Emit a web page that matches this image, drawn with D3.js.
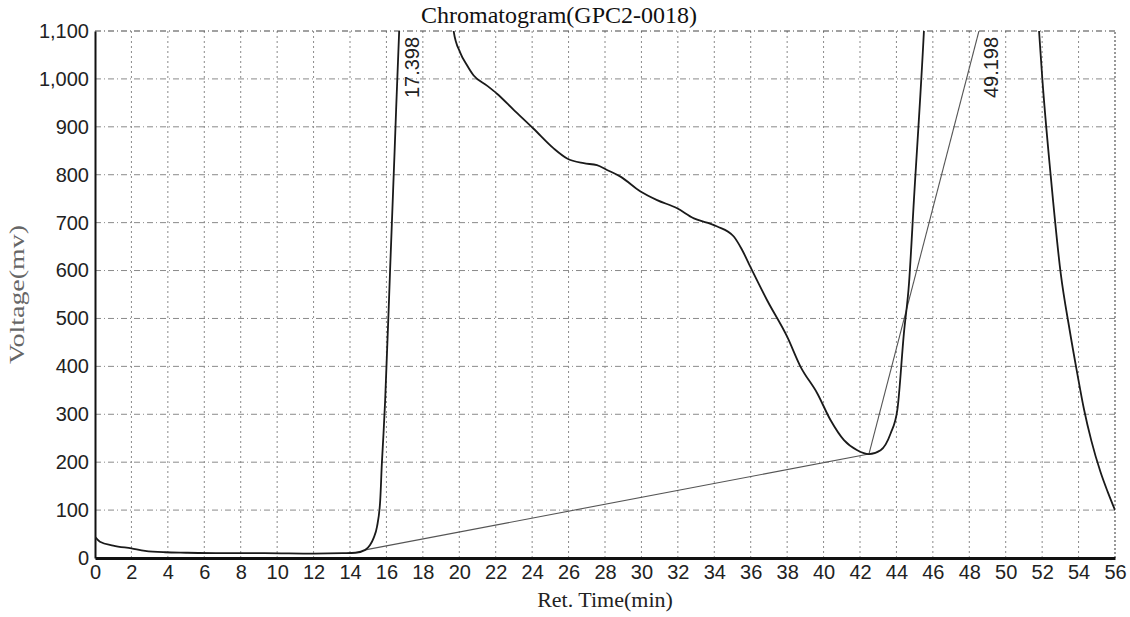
<!DOCTYPE html>
<html lang="en">
<head>
<meta charset="UTF-8">
<title>Chromatogram(GPC2-0018)</title>
<script src="https://d3js.org/d3.v7.min.js"></script>
<style>
    body { margin: 0; background: #fff; }
    .tick-label { font-family: "Liberation Sans", Arial, sans-serif; font-size: 20px; fill: #222; }
    .serif { font-family: "Liberation Serif", "Times New Roman", serif; }
</style>
</head>
<body>
<script>
    // retention time (min) and detector voltage (mV)
    const retTime = [0, 0.27, 1, 2, 2.75, 3.85, 5, 7, 9.3, 12, 13.6, 14.3, 14.84, 15.1, 15.3, 15.48, 15.66, 15.75,
        15.84, 15.93, 16.2, 16.45, 16.7, 16.85, 17.4, 19.2, 19.6, 19.69, 20.05, 20.4, 20.79, 21.52, 22.07, 23.0,
        24.08, 25.18, 25.92, 26.83, 27.56, 28.11, 28.85, 29.95, 30.86, 31.96, 32.88, 33.6, 34.16, 35.07, 35.5,
        35.99, 36.9, 38.0, 38.74, 39.65, 40.38, 41.12, 41.85, 42.49, 43.13, 43.68, 44.05, 44.41, 44.69, 44.96,
        45.51, 45.7, 49.2, 51.6, 51.83, 52.01, 52.47, 53.02, 53.5, 53.93, 54.3, 54.7, 55.2, 55.6, 56.0];
    const voltage = [44, 34, 26, 20, 15, 12, 11, 10, 10, 9, 10, 11, 17, 27, 42, 65, 121, 198,
        260, 329, 600, 850, 1100, 1200, 1500, 1500, 1130, 1100, 1055, 1030, 1007, 986, 969, 935,
        896, 855, 834, 824, 820, 810, 796, 765, 747, 730, 709, 700, 692, 671, 645,
        607, 538, 462, 399, 344, 288, 246, 225, 217, 225, 260, 309, 469, 573, 747,
        1100, 1250, 1600, 1250, 1100, 1000, 798, 594, 478, 385, 310, 245, 180, 138, 100];

    // integration baseline and tangent drop line
    const baseTime = [14.84, 42.49];
    const baseVolt = [17, 217];
    const dropTime = [42.49, 48.53];
    const dropVolt = [217, 1100];

    const peakTimes = [17.398, 49.198];
    const peakLabels = ["17.398", "49.198"];

    const xTicks = [0, 2, 4, 6, 8, 10, 12, 14, 16, 18, 20, 22, 24, 26, 28, 30, 32, 34, 36, 38, 40, 42, 44, 46, 48, 50, 52, 54, 56];
    const yTicks = [0, 100, 200, 300, 400, 500, 600, 700, 800, 900, 1000, 1100];

    const W = 1130, H = 617;
    const margin = { top: 31, right: 15, bottom: 59, left: 95 };

    const svg = d3.select("body").append("svg")
        .attr("width", W)
        .attr("height", H)
        .style("display", "block");

    svg.append("rect").attr("width", W).attr("height", H).attr("fill", "#fff");

    const x = d3.scaleLinear().domain([0, 56]).range([margin.left, W - margin.right]);
    const y = d3.scaleLinear().domain([0, 1100]).range([H - margin.bottom, margin.top]);

    // grid
    svg.append("g").selectAll("line")
        .data(xTicks.slice(1, -1))
        .enter().append("line")
        .attr("x1", d => x(d)).attr("x2", d => x(d))
        .attr("y1", y(0)).attr("y2", y(1100))
        .attr("stroke", "#8a8a8a")
        .attr("stroke-width", 1)
        .attr("stroke-dasharray", "2,3");

    svg.append("g").selectAll("line")
        .data(yTicks.slice(1, -1))
        .enter().append("line")
        .attr("x1", x(0)).attr("x2", x(56))
        .attr("y1", d => y(d)).attr("y2", d => y(d))
        .attr("stroke", "#8a8a8a")
        .attr("stroke-width", 1)
        .attr("stroke-dasharray", "6,3,1,3");

    // top and right frame
    svg.append("line")
        .attr("x1", x(0)).attr("x2", x(56)).attr("y1", y(1100)).attr("y2", y(1100))
        .attr("stroke", "#444").attr("stroke-width", 1.2).attr("stroke-dasharray", "6,3,1,3");
    svg.append("line")
        .attr("x1", x(56)).attr("x2", x(56)).attr("y1", y(0)).attr("y2", y(1100))
        .attr("stroke", "#555").attr("stroke-width", 1.2).attr("stroke-dasharray", "2,2");

    // axes
    const yAxis = svg.append("g")
        .attr("transform", `translate(${x(0)},0)`)
        .call(d3.axisLeft(y).tickValues(yTicks).tickSize(0).tickPadding(6).tickFormat(d3.format(",")));
    yAxis.select(".domain").attr("stroke", "#111").attr("stroke-width", 2);
    yAxis.selectAll("text").attr("class", "tick-label").attr("font-size", null).attr("font-family", null);

    const xAxis = svg.append("g")
        .attr("transform", `translate(0,${y(0)})`)
        .call(d3.axisBottom(x).tickValues(xTicks).tickSize(0).tickPadding(7));
    xAxis.select(".domain").attr("stroke", "#111").attr("stroke-width", 3);
    xAxis.selectAll("text").attr("class", "tick-label").attr("font-size", null).attr("font-family", null);

    // clip for the trace
    svg.append("clipPath").attr("id", "plot-clip")
        .append("rect")
        .attr("x", x(0)).attr("y", y(1100))
        .attr("width", x(56) - x(0)).attr("height", y(0) - y(1100));

    const plot = svg.append("g").attr("clip-path", "url(#plot-clip)");

    const line = d3.line()
        .x(d => x(d[0]))
        .y(d => y(d[1]));

    plot.append("path")
        .datum(d3.zip(baseTime, baseVolt))
        .attr("d", line)
        .attr("fill", "none").attr("stroke", "#555").attr("stroke-width", 1.1);

    plot.append("path")
        .datum(d3.zip(dropTime, dropVolt))
        .attr("d", line)
        .attr("fill", "none").attr("stroke", "#555").attr("stroke-width", 1.1);

    plot.append("path")
        .datum(d3.zip(retTime, voltage))
        .attr("d", line.curve(d3.curveMonotoneX))
        .attr("fill", "none").attr("stroke", "#1a1a1a").attr("stroke-width", 1.8);

    // peak retention time labels
    svg.append("g").selectAll("text")
        .data(peakTimes)
        .enter().append("text")
        .attr("class", "tick-label")
        .attr("transform", d => `translate(${x(d)},${y(960)}) rotate(-90)`)
        .attr("dy", "0.35em")
        .attr("text-anchor", "start")
        .text((d, i) => peakLabels[i]);

    // titles
    svg.append("text")
        .attr("class", "serif")
        .attr("x", 559).attr("y", 23)
        .attr("text-anchor", "middle")
        .attr("font-size", 24)
        .attr("fill", "#111")
        .text("Chromatogram(GPC2-0018)");

    svg.append("text")
        .attr("class", "serif")
        .attr("x", (x(0) + x(56)) / 2).attr("y", 607)
        .attr("text-anchor", "middle")
        .attr("font-size", 22)
        .attr("fill", "#222")
        .text("Ret. Time(min)");

    svg.append("text")
        .attr("class", "serif")
        .attr("transform", `translate(24,${(y(0) + y(1100)) / 2}) rotate(-90)`)
        .attr("text-anchor", "middle")
        .attr("font-size", 22)
        .attr("textLength", 139)
        .attr("lengthAdjust", "spacingAndGlyphs")
        .attr("fill", "#666")
        .text("Voltage(mv)");
</script>
</body>
</html>
